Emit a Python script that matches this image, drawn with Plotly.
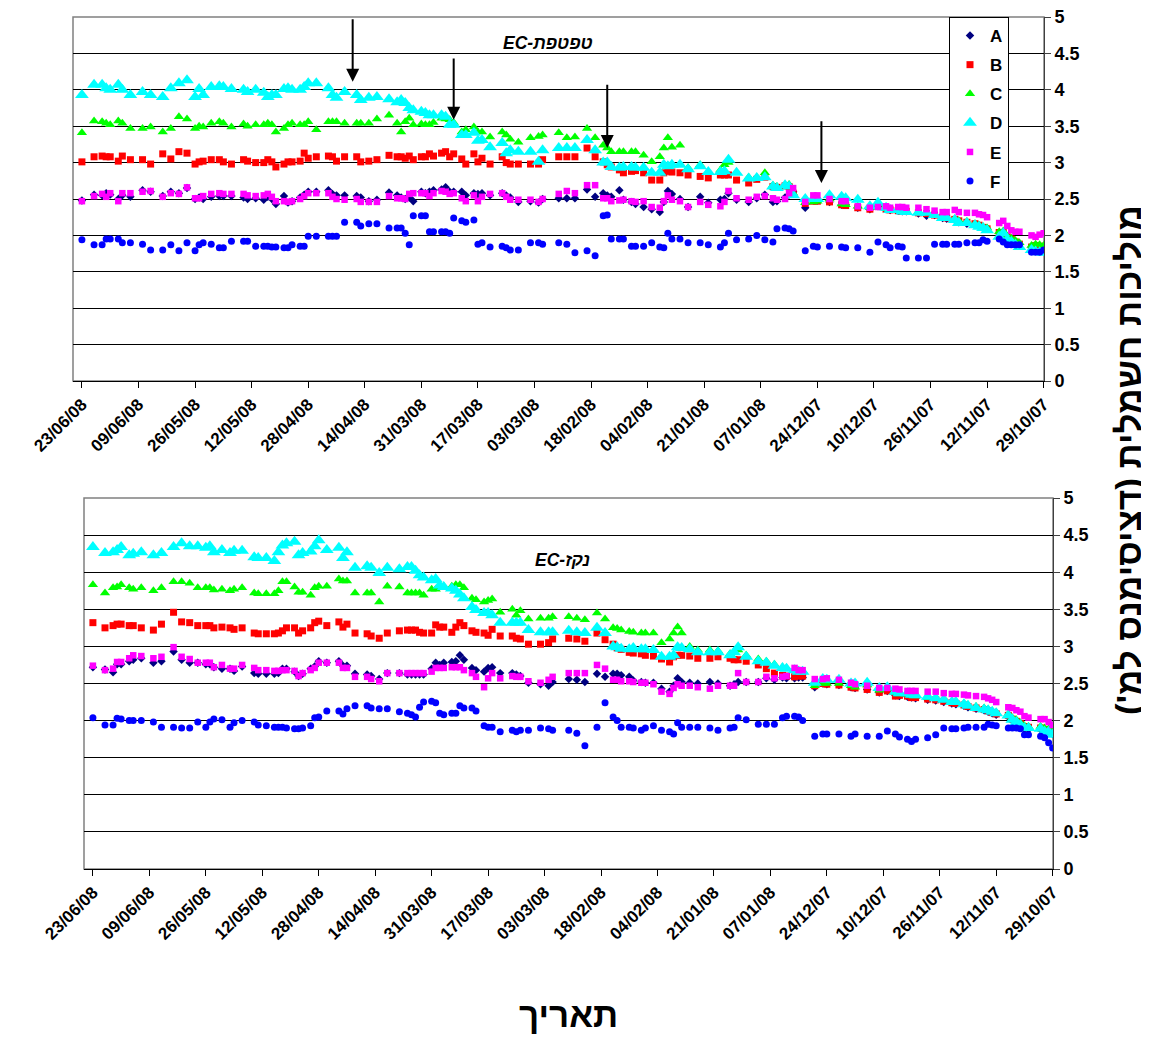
import plotly.graph_objects as go

DATES = [
    "2008-06-23", "2008-06-20", "2008-06-18", "2008-06-17", "2008-06-16", "2008-06-14", "2008-06-13", "2008-06-11", "2008-06-08", "2008-06-06",
    "2008-06-03", "2008-06-01", "2008-05-30", "2008-05-28", "2008-05-26", "2008-05-25", "2008-05-24", "2008-05-22", "2008-05-20", "2008-05-19",
    "2008-05-17", "2008-05-14", "2008-05-13", "2008-05-11", "2008-05-09", "2008-05-08", "2008-05-07", "2008-05-06", "2008-05-04", "2008-05-03",
    "2008-05-02", "2008-04-30", "2008-04-29", "2008-04-28", "2008-04-26", "2008-04-23", "2008-04-22", "2008-04-21", "2008-04-19", "2008-04-16",
    "2008-04-15", "2008-04-13", "2008-04-11", "2008-04-08", "2008-04-06", "2008-04-05", "2008-04-04", "2008-04-03", "2008-04-02", "2008-03-31",
    "2008-03-30", "2008-03-29", "2008-03-28", "2008-03-26", "2008-03-25", "2008-03-24", "2008-03-23", "2008-03-21", "2008-03-20", "2008-03-18",
    "2008-03-17", "2008-03-16", "2008-03-14", "2008-03-11", "2008-03-10", "2008-03-09", "2008-03-07", "2008-03-04", "2008-03-02", "2008-03-01",
    "2008-02-26", "2008-02-24", "2008-02-22", "2008-02-19", "2008-02-17", "2008-02-15", "2008-02-14", "2008-02-13", "2008-02-11", "2008-02-10",
    "2008-02-08", "2008-02-07", "2008-02-05", "2008-02-03", "2008-02-01", "2008-01-31", "2008-01-30", "2008-01-29", "2008-01-27", "2008-01-25",
    "2008-01-22", "2008-01-20", "2008-01-17", "2008-01-16", "2008-01-15", "2008-01-13", "2008-01-10", "2008-01-08", "2008-01-06", "2008-01-04",
    "2008-01-03", "2008-01-01", "2007-12-31", "2007-12-30", "2007-12-27", "2007-12-25", "2007-12-24", "2007-12-21", "2007-12-18", "2007-12-17",
    "2007-12-14", "2007-12-11", "2007-12-09", "2007-12-07", "2007-12-06", "2007-12-04", "2007-12-03", "2007-12-02", "2007-11-29", "2007-11-27",
    "2007-11-25", "2007-11-23", "2007-11-22", "2007-11-20", "2007-11-19", "2007-11-17", "2007-11-15", "2007-11-14", "2007-11-13", "2007-11-12",
    "2007-11-09", "2007-11-08", "2007-11-07", "2007-11-06", "2007-11-05", "2007-11-04", "2007-11-01", "2007-10-31", "2007-10-30", "2007-10-29",
]

# ---- Top panel (EC dripper) ----
TOP_A = [
    2.48, 2.56, 2.55, 2.58, 2.56, 2.50, 2.55, 2.53, 2.62, 2.60,
    2.54, 2.60, 2.58, 2.65, 2.50, 2.52, 2.50, 2.53, 2.54, 2.54,
    2.54, 2.52, 2.50, 2.51, 2.49, 2.53, 2.50, 2.43, 2.54, 2.45,
    2.47, 2.52, 2.56, 2.60, 2.60, 2.62, 2.57, 2.55, 2.55, 2.54,
    2.52, 2.47, 2.49, 2.59, 2.55, 2.52, 2.50, 2.52, 2.47, 2.60,
    2.58, 2.60, 2.62, 2.63, 2.66, 2.60, 2.60, 2.60, 2.55, 2.58,
    2.57, 2.58, 2.55, 2.58, 2.55, 2.52, 2.46, 2.47, 2.45, 2.50,
    2.51, 2.51, 2.51, 2.63, 2.53, 2.58, 2.55, 2.53, 2.62, 2.49,
    2.46, 2.43, 2.39, 2.36, 2.32, 2.46, 2.61, 2.57, 2.50, 2.39,
    2.53, 2.45, 2.49, 2.50, 2.58, 2.49, 2.46, 2.51, 2.56, 2.46,
    2.47, 2.52, 2.56, 2.60, 2.38, 2.48, 2.48, 2.46, 2.42, 2.42,
    2.38, 2.36, 2.40, 2.36, 2.35, 2.34, 2.33, 2.33, 2.30, 2.27,
    2.28, 2.24, 2.23, 2.21, 2.18, 2.16, 2.15, 2.13, 2.11, 2.09,
    2.03, 2.03, 1.98, 1.94, 1.90, 1.87, 1.83, 1.84, 1.84, 1.83,
]
TOP_B = [
    3.01, 3.08, 3.09, 3.08, 3.08, 3.02, 3.09, 3.04, 3.04, 2.98,
    3.12, 3.05, 3.15, 3.13, 2.98, 3.01, 3.02, 3.04, 3.04, 3.01,
    2.98, 3.04, 3.02, 3.00, 3.00, 3.04, 3.01, 2.94, 2.98, 3.01,
    3.01, 3.02, 3.13, 3.06, 3.08, 3.09, 3.08, 3.02, 3.08, 3.08,
    3.01, 3.02, 3.04, 3.10, 3.08, 3.08, 3.06, 3.09, 3.04, 3.08,
    3.08, 3.12, 3.09, 3.13, 3.15, 3.08, 3.12, 3.05, 2.98, 3.12,
    3.01, 3.06, 2.98, 3.08, 3.00, 2.98, 2.98, 2.98, 2.98, 3.04,
    3.08, 3.08, 3.08, 3.20, 3.08, 3.01, 2.97, 2.94, 2.90, 2.86,
    2.88, 2.89, 2.86, 2.76, 2.76, 2.86, 2.88, 2.87, 2.86, 2.83,
    2.81, 2.79, 2.83, 2.83, 2.83, 2.76, 2.72, 2.77, 2.80, 2.67,
    2.66, 2.68, 2.67, 2.58, 2.44, 2.47, 2.47, 2.46, 2.42, 2.41,
    2.38, 2.36, 2.40, 2.36, 2.35, 2.34, 2.33, 2.33, 2.31, 2.30,
    2.28, 2.25, 2.24, 2.22, 2.20, 2.18, 2.16, 2.14, 2.11, 2.09,
    2.04, 2.04, 1.98, 1.95, 1.91, 1.88, 1.84, 1.86, 1.85, 1.85,
]
TOP_C = [
    3.41, 3.57, 3.56, 3.54, 3.52, 3.57, 3.54, 3.47, 3.47, 3.49,
    3.42, 3.47, 3.63, 3.60, 3.47, 3.50, 3.49, 3.54, 3.56, 3.54,
    3.49, 3.53, 3.50, 3.52, 3.52, 3.54, 3.52, 3.42, 3.47, 3.52,
    3.54, 3.52, 3.52, 3.56, 3.45, 3.56, 3.56, 3.56, 3.54, 3.54,
    3.54, 3.54, 3.60, 3.65, 3.54, 3.42, 3.56, 3.61, 3.52, 3.53,
    3.52, 3.52, 3.55, 3.61, 3.60, 3.59, 3.55, 3.42, 3.45, 3.49,
    3.42, 3.42, 3.35, 3.42, 3.38, 3.32, 3.28, 3.34, 3.36, 3.38,
    3.41, 3.34, 3.35, 3.47, 3.34, 3.24, 3.20, 3.15, 3.15, 3.15,
    3.15, 3.15, 3.10, 3.01, 3.08, 3.20, 3.34, 3.21, 3.24, 2.93,
    2.97, 2.87, 2.90, 2.97, 3.00, 2.86, 2.80, 2.80, 2.86, 2.69,
    2.67, 2.68, 2.70, 2.58, 2.45, 2.46, 2.47, 2.50, 2.43, 2.42,
    2.40, 2.38, 2.43, 2.37, 2.36, 2.35, 2.34, 2.33, 2.32, 2.32,
    2.29, 2.26, 2.25, 2.23, 2.20, 2.19, 2.16, 2.14, 2.12, 2.10,
    2.05, 2.06, 1.99, 1.96, 1.93, 1.90, 1.86, 1.88, 1.87, 1.86,
]
TOP_D = [
    3.93, 4.07, 4.07, 4.02, 4.00, 4.07, 4.00, 3.93, 3.97, 3.93,
    3.90, 4.02, 4.09, 4.13, 3.90, 4.01, 3.93, 4.04, 4.05, 4.04,
    4.01, 4.00, 3.97, 4.00, 3.96, 3.90, 3.93, 3.93, 4.01, 4.02,
    4.00, 4.00, 4.04, 4.09, 4.09, 4.02, 3.93, 3.89, 3.97, 3.93,
    3.86, 3.89, 3.90, 3.87, 3.83, 3.86, 3.82, 3.75, 3.72, 3.70,
    3.68, 3.65, 3.65, 3.65, 3.63, 3.52, 3.52, 3.38, 3.38, 3.41,
    3.30, 3.31, 3.21, 3.27, 3.13, 3.17, 3.15, 3.15, 3.01, 3.17,
    3.20, 3.20, 3.20, 3.31, 3.17, 3.00, 3.00, 2.94, 2.93, 2.94,
    2.94, 2.93, 2.93, 2.86, 2.86, 2.97, 2.95, 2.97, 2.97, 2.91,
    2.95, 2.87, 2.87, 2.88, 3.04, 2.86, 2.78, 2.79, 2.80, 2.67,
    2.65, 2.69, 2.67, 2.55, 2.50, 2.50, 2.50, 2.55, 2.53, 2.51,
    2.49, 2.40, 2.45, 2.38, 2.35, 2.35, 2.33, 2.32, 2.31, 2.31,
    2.28, 2.24, 2.24, 2.21, 2.17, 2.17, 2.14, 2.12, 2.10, 2.07,
    1.98, 2.03, 1.94, 1.91, 1.87, 1.84, 1.80, 1.78, 1.77, 1.76,
]
TOP_E = [
    2.47, 2.54, 2.57, 2.53, 2.58, 2.47, 2.58, 2.58, 2.60, 2.61,
    2.53, 2.58, 2.57, 2.66, 2.51, 2.51, 2.54, 2.57, 2.58, 2.57,
    2.57, 2.57, 2.55, 2.54, 2.55, 2.57, 2.53, 2.47, 2.47, 2.46,
    2.47, 2.50, 2.54, 2.58, 2.58, 2.58, 2.53, 2.50, 2.49, 2.50,
    2.46, 2.46, 2.46, 2.54, 2.51, 2.51, 2.50, 2.57, 2.58, 2.58,
    2.58, 2.54, 2.58, 2.61, 2.60, 2.57, 2.58, 2.51, 2.47, 2.55,
    2.47, 2.53, 2.57, 2.58, 2.53, 2.49, 2.49, 2.49, 2.46, 2.50,
    2.57, 2.61, 2.58, 2.69, 2.69, 2.51, 2.51, 2.47, 2.48, 2.49,
    2.47, 2.46, 2.47, 2.39, 2.38, 2.47, 2.55, 2.49, 2.47, 2.39,
    2.46, 2.42, 2.40, 2.46, 2.61, 2.51, 2.49, 2.53, 2.54, 2.51,
    2.49, 2.50, 2.58, 2.65, 2.46, 2.55, 2.55, 2.50, 2.47, 2.47,
    2.40, 2.38, 2.39, 2.40, 2.38, 2.39, 2.39, 2.38, 2.38, 2.36,
    2.34, 2.32, 2.32, 2.35, 2.32, 2.31, 2.31, 2.29, 2.28, 2.25,
    2.17, 2.20, 2.13, 2.07, 2.05, 2.05, 2.00, 1.98, 2.01, 2.03,
]
TOP_F = [
    1.94, 1.87, 1.87, 1.95, 1.95, 1.95, 1.90, 1.90, 1.88, 1.80,
    1.80, 1.87, 1.79, 1.90, 1.79, 1.87, 1.90, 1.88, 1.83, 1.83,
    1.92, 1.92, 1.92, 1.85, 1.85, 1.85, 1.84, 1.84, 1.83, 1.83,
    1.87, 1.85, 1.85, 1.99, 1.99, 1.99, 1.99, 1.99, 2.18, 2.18,
    2.13, 2.16, 2.16, 2.10, 2.10, 2.10, 2.03, 1.87, 2.27, 2.27,
    2.27, 2.05, 2.05, 2.05, 2.05, 2.03, 2.24, 2.20, 2.18, 2.21,
    1.88, 1.90, 1.84, 1.85, 1.83, 1.80, 1.80, 1.90, 1.90, 1.88,
    1.90, 1.88, 1.76, 1.79, 1.72, 2.27, 2.28, 1.95, 1.95, 1.95,
    1.85, 1.85, 1.85, 1.90, 1.84, 1.83, 2.03, 1.95, 1.95, 1.90,
    1.90, 1.87, 1.84, 1.90, 2.03, 1.94, 1.95, 2.00, 1.94, 1.91,
    2.09, 2.10, 2.09, 2.06, 1.79, 1.85, 1.84, 1.85, 1.84, 1.83,
    1.83, 1.77, 1.91, 1.87, 1.83, 1.85, 1.84, 1.69, 1.69, 1.69,
    1.88, 1.88, 1.88, 1.88, 1.88, 1.90, 1.90, 1.90, 1.94, 1.92,
    1.95, 1.91, 1.87, 1.87, 1.87, 1.87, 1.77, 1.77, 1.77, 1.80,
]

# ---- Bottom panel (EC drainage) ----
BOT_A = [
    2.72, 2.69, 2.65, 2.76, 2.76, 2.80, 2.82, 2.84, 2.78, 2.80,
    2.93, 2.82, 2.78, 2.78, 2.76, 2.76, 2.72, 2.70, 2.70, 2.67,
    2.73, 2.64, 2.63, 2.63, 2.63, 2.64, 2.70, 2.70, 2.66, 2.60,
    2.63, 2.70, 2.73, 2.80, 2.78, 2.80, 2.74, 2.74, 2.63, 2.62,
    2.60, 2.56, 2.64, 2.64, 2.62, 2.62, 2.62, 2.62, 2.62, 2.70,
    2.78, 2.75, 2.78, 2.79, 2.80, 2.88, 2.82, 2.71, 2.68, 2.66,
    2.71, 2.72, 2.64, 2.64, 2.62, 2.60, 2.51, 2.49, 2.47, 2.52,
    2.56, 2.55, 2.52, 2.63, 2.59, 2.63, 2.63, 2.61, 2.59, 2.54,
    2.52, 2.51, 2.51, 2.43, 2.39, 2.47, 2.57, 2.52, 2.51, 2.50,
    2.52, 2.50, 2.47, 2.49, 2.52, 2.52, 2.52, 2.57, 2.55, 2.58,
    2.57, 2.57, 2.58, 2.58, 2.45, 2.50, 2.49, 2.48, 2.45, 2.44,
    2.42, 2.38, 2.40, 2.34, 2.33, 2.32, 2.31, 2.30, 2.28, 2.27,
    2.25, 2.23, 2.22, 2.20, 2.18, 2.16, 2.14, 2.12, 2.10, 2.08,
    2.05, 2.00, 1.97, 1.93, 1.89, 1.88, 1.88, 1.86, 1.85, 1.82,
]
BOT_B = [
    3.32, 3.25, 3.28, 3.30, 3.30, 3.28, 3.28, 3.25, 3.22, 3.30,
    3.46, 3.33, 3.32, 3.28, 3.28, 3.28, 3.25, 3.26, 3.25, 3.23,
    3.25, 3.18, 3.17, 3.17, 3.17, 3.18, 3.21, 3.25, 3.25, 3.18,
    3.21, 3.25, 3.32, 3.34, 3.28, 3.33, 3.26, 3.30, 3.18, 3.17,
    3.14, 3.11, 3.18, 3.21, 3.22, 3.22, 3.22, 3.19, 3.18, 3.18,
    3.29, 3.26, 3.26, 3.19, 3.26, 3.32, 3.28, 3.21, 3.19, 3.18,
    3.15, 3.23, 3.14, 3.14, 3.11, 3.10, 3.03, 3.03, 3.05, 3.10,
    3.11, 3.10, 3.07, 3.18, 3.09, 3.03, 2.98, 2.96, 2.92, 2.91,
    2.90, 2.88, 2.87, 2.83, 2.79, 2.86, 2.88, 2.88, 2.87, 2.84,
    2.84, 2.86, 2.84, 2.82, 2.82, 2.80, 2.75, 2.70, 2.64, 2.61,
    2.60, 2.59, 2.60, 2.60, 2.47, 2.50, 2.49, 2.48, 2.45, 2.44,
    2.42, 2.38, 2.40, 2.33, 2.34, 2.33, 2.31, 2.31, 2.29, 2.28,
    2.26, 2.24, 2.23, 2.21, 2.19, 2.17, 2.15, 2.13, 2.11, 2.09,
    2.07, 2.02, 1.99, 1.96, 1.92, 1.91, 1.90, 1.88, 1.87, 1.85,
]
BOT_C = [
    3.83, 3.72, 3.79, 3.80, 3.83, 3.79, 3.77, 3.79, 3.75, 3.79,
    3.87, 3.87, 3.85, 3.79, 3.79, 3.79, 3.76, 3.77, 3.75, 3.77,
    3.79, 3.72, 3.71, 3.71, 3.71, 3.75, 3.87, 3.87, 3.80, 3.73,
    3.73, 3.69, 3.79, 3.81, 3.81, 3.91, 3.88, 3.88, 3.72, 3.72,
    3.72, 3.60, 3.81, 3.80, 3.72, 3.72, 3.72, 3.72, 3.69, 3.77,
    3.77, 3.81, 3.81, 3.81, 3.83, 3.83, 3.79, 3.65, 3.63, 3.60,
    3.62, 3.64, 3.46, 3.50, 3.42, 3.48, 3.37, 3.38, 3.38, 3.40,
    3.40, 3.38, 3.36, 3.45, 3.37, 3.25, 3.24, 3.22, 3.20, 3.19,
    3.18, 3.18, 3.18, 3.05, 3.10, 3.18, 3.26, 3.18, 3.00, 2.95,
    2.95, 2.94, 2.90, 2.92, 2.95, 2.88, 2.83, 2.80, 2.76, 2.72,
    2.71, 2.69, 2.68, 2.67, 2.47, 2.50, 2.50, 2.50, 2.47, 2.45,
    2.48, 2.41, 2.43, 2.38, 2.36, 2.36, 2.34, 2.33, 2.31, 2.30,
    2.28, 2.26, 2.25, 2.23, 2.21, 2.19, 2.17, 2.15, 2.13, 2.11,
    2.09, 2.04, 2.01, 1.97, 1.93, 1.92, 1.92, 1.90, 1.89, 1.86,
]
BOT_D = [
    4.34, 4.26, 4.27, 4.30, 4.34, 4.23, 4.25, 4.27, 4.23, 4.26,
    4.34, 4.39, 4.35, 4.35, 4.33, 4.35, 4.27, 4.30, 4.26, 4.29,
    4.29, 4.20, 4.19, 4.19, 4.15, 4.27, 4.36, 4.39, 4.41, 4.23,
    4.26, 4.28, 4.35, 4.43, 4.30, 4.33, 4.19, 4.27, 4.06, 4.08,
    4.06, 3.99, 4.06, 4.04, 4.07, 4.07, 4.02, 3.96, 3.93, 3.89,
    3.91, 3.82, 3.80, 3.78, 3.75, 3.70, 3.65, 3.53, 3.49, 3.45,
    3.45, 3.42, 3.32, 3.32, 3.32, 3.32, 3.22, 3.19, 3.19, 3.19,
    3.21, 3.19, 3.18, 3.25, 3.18, 3.00, 2.99, 2.97, 2.96, 2.98,
    2.96, 2.96, 2.95, 2.86, 2.86, 2.88, 2.99, 2.98, 2.96, 2.92,
    2.92, 2.92, 2.88, 2.92, 2.99, 2.86, 2.80, 2.78, 2.74, 2.71,
    2.70, 2.68, 2.66, 2.66, 2.51, 2.56, 2.55, 2.55, 2.50, 2.50,
    2.51, 2.44, 2.45, 2.39, 2.37, 2.37, 2.35, 2.34, 2.32, 2.30,
    2.28, 2.25, 2.25, 2.22, 2.20, 2.17, 2.15, 2.14, 2.12, 2.10,
    2.07, 2.01, 1.98, 1.94, 1.90, 1.90, 1.89, 1.85, 1.85, 1.81,
]
BOT_E = [
    2.74, 2.68, 2.70, 2.79, 2.79, 2.84, 2.88, 2.87, 2.84, 2.86,
    2.99, 2.86, 2.83, 2.78, 2.78, 2.78, 2.72, 2.75, 2.70, 2.70,
    2.75, 2.71, 2.68, 2.68, 2.67, 2.67, 2.68, 2.68, 2.67, 2.60,
    2.64, 2.68, 2.71, 2.78, 2.78, 2.78, 2.71, 2.71, 2.59, 2.59,
    2.56, 2.53, 2.64, 2.64, 2.64, 2.64, 2.64, 2.64, 2.64, 2.66,
    2.71, 2.71, 2.71, 2.72, 2.72, 2.72, 2.68, 2.64, 2.59, 2.45,
    2.57, 2.64, 2.57, 2.60, 2.59, 2.59, 2.53, 2.51, 2.55, 2.59,
    2.64, 2.64, 2.64, 2.75, 2.70, 2.55, 2.55, 2.53, 2.53, 2.52,
    2.51, 2.51, 2.49, 2.39, 2.36, 2.44, 2.49, 2.47, 2.47, 2.45,
    2.43, 2.47, 2.47, 2.47, 2.64, 2.52, 2.52, 2.59, 2.57, 2.59,
    2.60, 2.71, 2.68, 2.68, 2.56, 2.56, 2.57, 2.55, 2.51, 2.49,
    2.47, 2.44, 2.44, 2.43, 2.42, 2.40, 2.40, 2.40, 2.39, 2.39,
    2.37, 2.36, 2.36, 2.35, 2.34, 2.33, 2.32, 2.30, 2.28, 2.25,
    2.18, 2.17, 2.14, 2.12, 2.06, 2.04, 2.02, 2.02, 1.98, 1.94,
]
BOT_F = [
    2.04, 1.94, 1.94, 2.03, 2.02, 2.00, 2.00, 2.00, 1.98, 1.91,
    1.91, 1.90, 1.90, 1.98, 1.91, 1.98, 2.02, 2.01, 1.91, 1.97,
    2.00, 1.98, 1.94, 1.93, 1.91, 1.91, 1.91, 1.90, 1.89, 1.89,
    1.90, 1.93, 2.04, 2.05, 2.13, 2.13, 2.09, 2.16, 2.20, 2.20,
    2.17, 2.16, 2.16, 2.12, 2.10, 2.08, 2.05, 2.18, 2.25, 2.26,
    2.24, 2.10, 2.08, 2.10, 2.10, 2.20, 2.17, 2.17, 2.13, 1.93,
    1.91, 1.91, 1.85, 1.87, 1.85, 1.87, 1.87, 1.90, 1.89, 1.87,
    1.87, 1.83, 1.66, 1.91, 2.24, 2.05, 2.00, 1.91, 1.91, 1.90,
    1.87, 1.90, 1.93, 1.87, 1.85, 1.82, 1.97, 1.91, 1.91, 1.91,
    1.90, 1.87, 1.90, 1.91, 2.04, 2.01, 1.95, 1.95, 1.95, 2.04,
    2.06, 2.06, 2.05, 2.00, 1.79, 1.82, 1.82, 1.82, 1.79, 1.82,
    1.79, 1.79, 1.86, 1.82, 1.78, 1.75, 1.72, 1.75, 1.77, 1.81,
    1.90, 1.89, 1.89, 1.90, 1.91, 1.91, 1.91, 1.95, 1.94, 1.93,
    1.90, 1.90, 1.90, 1.89, 1.81, 1.81, 1.79, 1.77, 1.70, 1.63,
]

SERIES_NAMES = ["A", "B", "C", "D", "E", "F"]
TICK_DATES = ["2008-06-23", "2008-06-09", "2008-05-26", "2008-05-12", "2008-04-28", "2008-04-14",
              "2008-03-31", "2008-03-17", "2008-03-03", "2008-02-18", "2008-02-04", "2008-01-21",
              "2008-01-07", "2007-12-24", "2007-12-10", "2007-11-26", "2007-11-12", "2007-10-29"]
TICK_LABELS = ["23/06/08", "09/06/08", "26/05/08", "12/05/08", "28/04/08", "14/04/08",
               "31/03/08", "17/03/08", "03/03/08", "18/02/08", "04/02/08", "21/01/08",
               "07/01/08", "24/12/07", "10/12/07", "26/11/07", "12/11/07", "29/10/07"]
Y_TICKS = [0, 0.5, 1, 1.5, 2, 2.5, 3, 3.5, 4, 4.5, 5]

ARROW_DATES = ["2008-04-17", "2008-03-23", "2008-02-14", "2007-12-23"]
ARROW_START = [4.99, 4.45, 4.09, 3.59]
ARROW_END = [4.11, 3.59, 3.20, 2.72]

TOP_TITLE = "EC-טפטפת"
BOT_TITLE = "EC-נקז"
Y_TITLE = "\u200fמוליכות חשמלית (דציסימנס למ')\u200f"
X_TITLE = "תאריך"

STYLE = {
    "A": dict(symbol="diamond", color="#000080", size=6.5),
    "B": dict(symbol="square", color="#FF0000", size=7),
    "C": dict(symbol="triangle-up", color="#00FF00", size=9),
    "D": dict(symbol="triangle-up", color="#00FFFF", size=12),
    "E": dict(symbol="square", color="#FF00FF", size=6.5),
    "F": dict(symbol="circle", color="#0000FF", size=7),
}

TOP = dict(zip(SERIES_NAMES, [TOP_A, TOP_B, TOP_C, TOP_D, TOP_E, TOP_F]))
BOT = dict(zip(SERIES_NAMES, [BOT_A, BOT_B, BOT_C, BOT_D, BOT_E, BOT_F]))

FONT = "Arial, Liberation Sans, sans-serif"
PAGE_OFFSET = 8            # default body margin of the html page
W, H = 1149 - PAGE_OFFSET, 1038 - PAGE_OFFSET


def px(x):
    return (x - PAGE_OFFSET) / W


def py(y):
    return 1 - (y - PAGE_OFFSET) / H


fig = go.Figure()
for name in SERIES_NAMES:
    st = STYLE[name]
    fig.add_trace(go.Scatter(
        x=DATES, y=TOP[name], mode="markers", name=name, legendgroup=name,
        marker=dict(symbol=st["symbol"], color=st["color"], size=st["size"], line=dict(width=0)),
        xaxis="x", yaxis="y", showlegend=True,
    ))
for name in SERIES_NAMES:
    st = STYLE[name]
    fig.add_trace(go.Scatter(
        x=DATES, y=BOT[name], mode="markers", name=name, legendgroup=name,
        marker=dict(symbol=st["symbol"], color=st["color"], size=st["size"], line=dict(width=0)),
        xaxis="x2", yaxis="y2", showlegend=False,
    ))

x_range = ["2008-06-25 05:00", "2007-10-28 22:00"]


def xaxis_cfg(domain, anchor):
    return dict(
        domain=domain, anchor=anchor, type="date", range=x_range, automargin=False,
        tickmode="array", tickvals=TICK_DATES, ticktext=TICK_LABELS,
        tickangle=-45, tickfont=dict(family=FONT, size=17, color="black", weight="bold"),
        ticks="outside", ticklen=6, tickcolor="black", ticklabeloverflow="allow",
        showline=True, linecolor="black", linewidth=1,
        showgrid=False, zeroline=False,
    )


def yaxis_cfg(domain, anchor):
    return dict(
        domain=domain, anchor=anchor, side="right", range=[0, 5], automargin=False,
        tickmode="array", tickvals=Y_TICKS,
        tickfont=dict(family=FONT, size=18, color="black", weight="bold"),
        ticks="outside", ticklen=6, tickcolor="#404040", ticklabeloverflow="allow",
        showline=True, linecolor="#404040", linewidth=1,
        showgrid=True, gridcolor="black", gridwidth=1, zeroline=False,
    )


fig.update_layout(
    template="none",
    width=W, height=H,
    margin=dict(l=0, r=0, t=0, b=0, autoexpand=False),
    paper_bgcolor="white", plot_bgcolor="white",
    xaxis=xaxis_cfg([px(73), px(1044)], "y"),
    yaxis=yaxis_cfg([py(381), py(17)], "x"),
    xaxis2=xaxis_cfg([px(84), px(1053)], "y2"),
    yaxis2=yaxis_cfg([py(869), py(498)], "x2"),
    showlegend=True,
    legend=dict(
        x=px(949), y=py(17), xanchor="left", yanchor="top",
        bgcolor="white", bordercolor="black", borderwidth=1,
        font=dict(family=FONT, size=17, color="black", weight="bold"),
        tracegroupgap=4, itemwidth=30,
    ),
)

# plot-area borders (grey, like the spreadsheet frame)
for xr, yr in (("x domain", "y domain"), ("x2 domain", "y2 domain")):
    fig.add_shape(type="rect", xref=xr, yref=yr, x0=0, x1=1, y0=0, y1=1,
                  line=dict(color="#808080", width=1.5), layer="below")

# arrows in the top panel
for d, y0, y1 in zip(ARROW_DATES, ARROW_START, ARROW_END):
    fig.add_annotation(x=d, y=y1, ax=d, ay=y0, xref="x", yref="y", axref="x", ayref="y",
                       text="", showarrow=True, arrowhead=2, arrowsize=1.3, arrowwidth=2,
                       arrowcolor="black")

fig.add_annotation(x=px(548), y=py(43), xref="paper", yref="paper", text=TOP_TITLE,
                   xanchor="center", yanchor="middle", showarrow=False,
                   font=dict(family=FONT, size=17.5, color="black", weight="bold", style="italic"))
fig.add_annotation(x=px(562), y=py(560), xref="paper", yref="paper", text=BOT_TITLE,
                   xanchor="center", yanchor="middle", showarrow=False,
                   font=dict(family=FONT, size=17.5, color="black", weight="bold", style="italic"))
fig.add_annotation(x=px(1128), y=py(460), xref="paper", yref="paper", text=Y_TITLE,
                   xanchor="center", yanchor="middle", textangle=-90, showarrow=False,
                   font=dict(family=FONT, size=35, color="black", weight="bold"))
fig.add_annotation(x=px(568), y=py(1014), xref="paper", yref="paper", text=X_TITLE,
                   xanchor="center", yanchor="middle", showarrow=False,
                   font=dict(family=FONT, size=35, color="black", weight="bold"))

fig.write_html("out.html")
